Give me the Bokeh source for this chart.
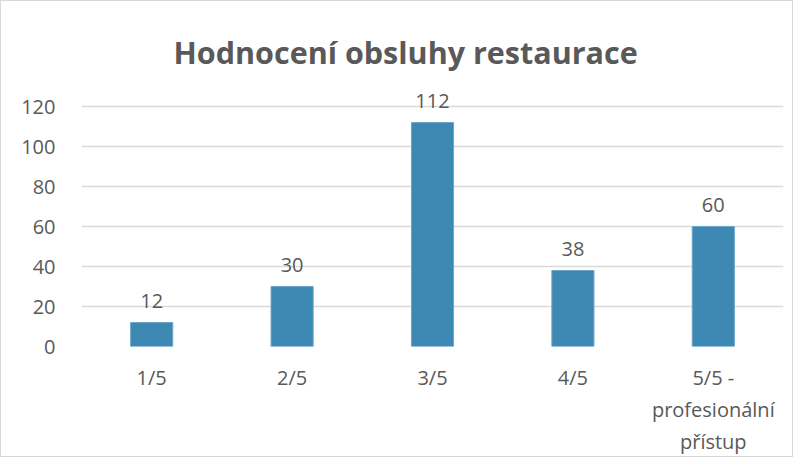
from bokeh.plotting import figure
from bokeh.models import Range1d, FactorRange, ColumnDataSource, Title
from bokeh.core.properties import value
from bokeh.embed import file_html
from bokeh.resources import INLINE

categories = ["1/5", "2/5", "3/5", "4/5", "5/5 -\nprofesionální\npřístup"]
counts = [12, 30, 112, 38, 60]
y_ticks = [0, 20, 40, 60, 80, 100, 120]
title_text = "Hodnocení obsluhy restaurace"

FONT = "Open Sans"
TXT = "#595959"

src = ColumnDataSource(dict(cat=categories, val=counts, lbl=[str(v) for v in counts]))

p = figure(width=793, height=457, x_range=FactorRange(*categories, range_padding=0),
           y_range=Range1d(0, 132), output_backend="svg", toolbar_location=None,
           min_border_left=80, min_border_right=11, min_border_top=81, min_border_bottom=108)
p.styles = {"border": "1px solid #d9d9d9"}
p.outline_line_color = None

p.add_layout(Title(text=title_text, align="left", offset=92, text_font=FONT,
                   text_font_size="30.5px", text_font_style="bold", text_color=TXT,
                   standoff=20), "above")

p.vbar(x="cat", top="val", width=0.3, source=src, fill_color="#3E88B4",
       line_color="#6BA6CB", line_width=1)
p.text(x="cat", y="val", text="lbl", source=src, text_align="center",
       text_baseline="alphabetic", y_offset=-22, text_font=value(FONT),
       text_font_size="20px", text_color=TXT)

p.yaxis.ticker = y_ticks
p.ygrid.ticker = y_ticks
p.ygrid.grid_line_color = "#d9d9d9"
p.ygrid.grid_line_width = 1.5
p.xgrid.grid_line_color = None

for ax in (p.xaxis, p.yaxis):
    ax.axis_line_color = None
    ax.major_tick_line_color = None
    ax.minor_tick_line_color = None
    ax.major_tick_out = 0
    ax.major_tick_in = 0
    ax.major_label_text_font = FONT
    ax.major_label_text_font_size = "20px"
    ax.major_label_text_color = TXT
p.yaxis.major_label_standoff = 26
p.xaxis.major_label_standoff = 17

open("out.html", "w").write(file_html(p, INLINE))
